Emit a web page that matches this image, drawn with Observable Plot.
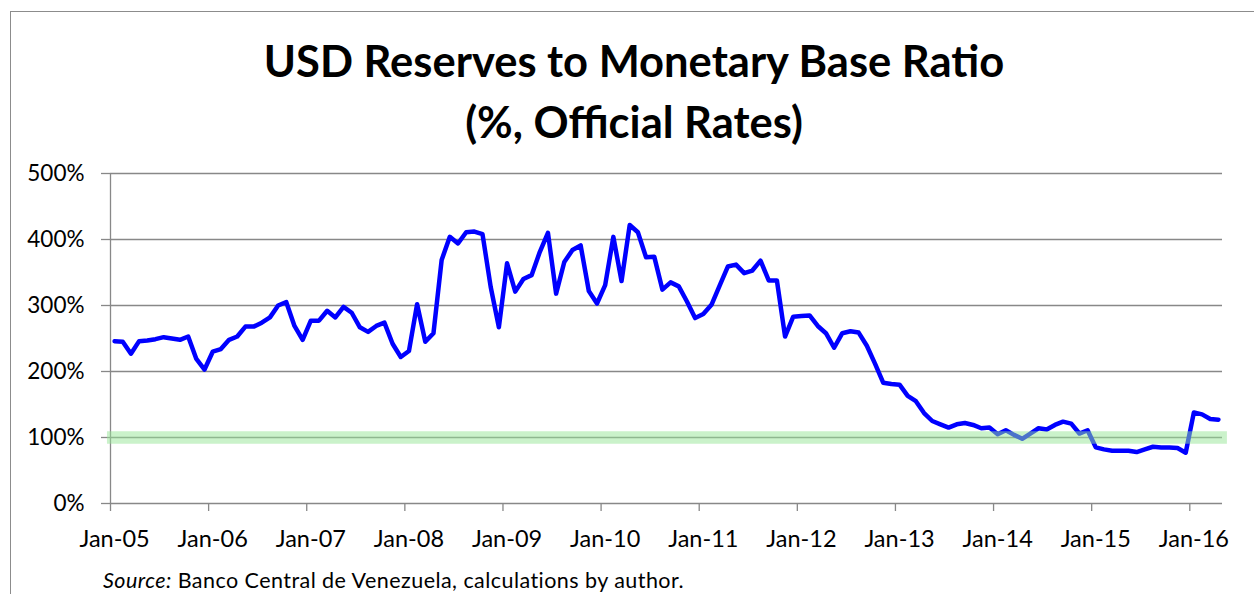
<!DOCTYPE html>
<html>
<head>
<meta charset="utf-8">
<script src="https://cdn.jsdelivr.net/npm/d3@7"></script>
<script src="https://cdn.jsdelivr.net/npm/@observablehq/plot@0.6"></script>
<style>
  html, body { margin: 0; padding: 0; background: #fff; }
  body { width: 1254px; height: 594px; overflow: hidden; position: relative; font-family: Lato, "Open Sans", sans-serif; }
  #frame { position: absolute; left: 10px; top: 11px; width: 1400px; height: 800px; border: 1.5px solid #8c8c8c; box-sizing: border-box; }
  #title { position: relative; width: 1268px; height: 152px; padding-top: 30px; box-sizing: border-box; text-align: center; font-weight: 700; font-size: 43.5px; line-height: 61px; color: #000; }
  #chart { position: relative; height: 418px; }
  #caption { position: absolute; left: 0; top: 567px; height: 26px; line-height: 26px; padding-left: 103px; font-size: 21.5px; letter-spacing: 0.45px; color: #000; white-space: nowrap; }
</style>
</head>
<body>
<div id="frame"></div>
<div id="title">USD Reserves to Monetary Base Ratio<br>(%, Official Rates)</div>
<div id="chart"></div>
<div id="caption"><i>Source:</i> Banco Central de Venezuela, calculations by author.</div>
<script>
// Monthly ratio, Jan-05 .. Apr-16 (%)
const values2005 = [246,245,227,246,247,249,252,250,248,253,219,203];
const values2006 = [230,234,248,253,268,268,274,282,300,305,269,248];
const values2007 = [277,277,292,282,298,289,267,260,269,274,242,222];
const values2008 = [231,302,245,258,369,404,394,411,412,408,328,267];
const values2009 = [364,321,340,346,381,410,318,366,384,391,322,303];
const values2010 = [331,404,337,422,411,373,374,324,335,329,306,281];
const values2011 = [287,301,330,359,362,349,353,368,338,338,253,283];
const values2012 = [284,285,269,258,236,258,261,259,239,212,183,181];
const values2013 = [180,163,155,137,125,120,115,120,122,119,114,115];
const values2014 = [105,111,104,98,106,114,112,119,124,121,106,111];
const values2015 = [85,82,80,80,80,78,82,86,85,85,84,77];
const values2016 = [138,135,128,127];
const tickLabels = ["Jan-05","Jan-06","Jan-07","Jan-08","Jan-09","Jan-10","Jan-11","Jan-12","Jan-13","Jan-14","Jan-15","Jan-16"];
const yTicks = [0,100,200,300,400,500];
const thresholdValue = [100];

const values = [].concat(values2005, values2006, values2007, values2008, values2009, values2010,
  values2011, values2012, values2013, values2014, values2015, values2016);
const data = values.map((v, i) => ({i, v}));
const n = values.length;
const tickPos = tickLabels.map((_, k) => 12 * k - 0.5);
const labelPos = tickLabels.map((_, k) => 12 * k);

const grid = "#888888";
const chart = Plot.plot({
  width: 1254,
  height: 418,
  marginTop: 21,
  marginBottom: 67,
  marginLeft: 110,
  marginRight: 32,
  x: {domain: [-0.5, n - 0.5], label: null},
  y: {domain: [0, 500], label: null},
  style: {fontFamily: "Lato, sans-serif", fontSize: "22.5px", color: "#000", background: "transparent", overflow: "visible"},
  marks: [
    Plot.ruleY(yTicks, {stroke: grid, strokeWidth: 1.3}),
    Plot.ruleX([-0.5], {y1: 0, y2: 500, stroke: grid, strokeWidth: 1.3}),
    Plot.axisY(yTicks, {tickSize: 9, tickPadding: 17, tickFormat: d => d + "%", stroke: grid, strokeWidth: 1.3, fill: "#000", fontSize: 22.5}),
    Plot.axisX(tickPos, {tickSize: 8, tickPadding: 0, tickFormat: () => "", stroke: grid, strokeWidth: 1.3}),
    Plot.axisX(labelPos, {tickSize: 0, tickPadding: 27, tickFormat: d => tickLabels[Math.round(d / 12)], fill: "#000", fontSize: 23.5}),
    Plot.line(data, {x: "i", y: "v", stroke: "#0000ff", strokeWidth: 4.5, strokeLinejoin: "round", strokeLinecap: "round"}),
    Plot.ruleY(thresholdValue, {x1: -0.87, x2: n + 0.1, stroke: "rgb(150,230,150)", strokeOpacity: 0.5, strokeWidth: 12.5})
  ]
});
document.getElementById("chart").appendChild(chart);
</script>
</body>
</html>
